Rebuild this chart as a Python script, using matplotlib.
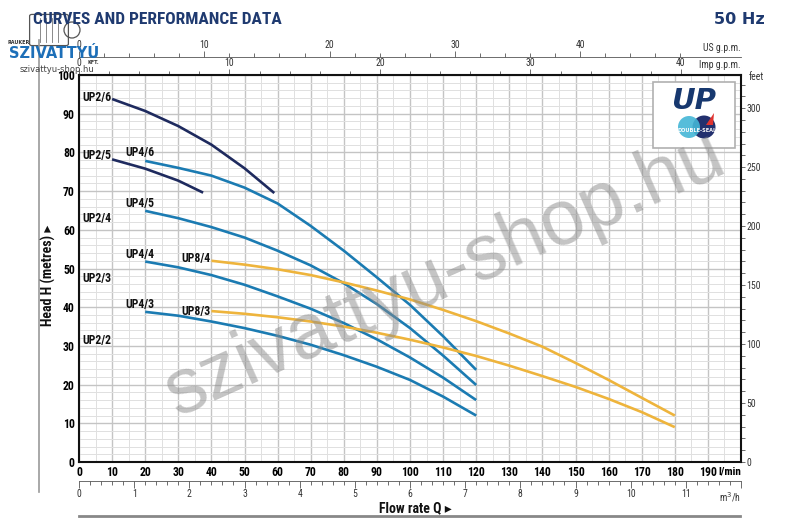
import matplotlib
matplotlib.use('Agg')
import matplotlib.pyplot as plt
from matplotlib import font_manager as fm
from matplotlib.ticker import MultipleLocator, FixedLocator
import matplotlib.patches as mpatches
import numpy as np

# ---------------- data ----------------
flow_up26 = [10, 20, 30, 40, 50, 59]
head_up26 = [93.8, 90.7, 86.8, 82.0, 75.9, 69.5]
flow_up25 = [10, 20, 30, 37.5]
head_up25 = [78.2, 75.8, 72.7, 69.6]

flow_up4 = [20, 30, 40, 50, 60, 70, 80, 90, 100, 110, 120]
head_up46 = [77.8, 76.0, 74.0, 70.9, 66.8, 61.0, 54.6, 47.7, 40.6, 32.5, 23.8]
head_up45 = [64.9, 63.0, 60.7, 58.0, 54.6, 50.8, 46.2, 40.8, 34.6, 27.5, 19.9]
head_up44 = [51.8, 50.3, 48.3, 45.8, 42.8, 39.6, 35.9, 31.7, 27.0, 21.8, 16.0]
head_up43 = [38.8, 37.8, 36.3, 34.6, 32.6, 30.3, 27.6, 24.6, 21.2, 16.9, 12.0]

flow_up8 = [40, 50, 60, 70, 80, 90, 100, 110, 120, 130, 140, 150, 160, 170, 180]
head_up84 = [52.0, 51.0, 49.8, 48.3, 46.4, 44.3, 42.0, 39.3, 36.4, 33.2, 29.8, 25.6, 21.2, 16.6, 12.0]
head_up83 = [39.0, 38.3, 37.4, 36.3, 35.0, 33.4, 31.6, 29.6, 27.4, 24.9, 22.2, 19.4, 16.3, 12.9, 9.0]

curve_labels = ["UP2/6", "UP2/5", "UP4/6", "UP2/4", "UP4/5", "UP4/4",
                "UP8/4", "UP2/3", "UP4/3", "UP8/3", "UP2/2"]
label_x = [0.9, 0.9, 13.9, 0.9, 13.9, 13.9, 30.8, 0.9, 13.9, 30.8, 0.9]
label_y = [94.2, 79.1, 80.1, 63.0, 66.9, 53.7, 52.5, 47.3, 40.6, 39.0, 31.5]

lpm_ticks = list(range(0, 201, 10))
head_ticks = list(range(0, 101, 10))
m3h_ticks = list(range(0, 13))
imp_ticks = [0, 10, 20, 30, 40]
us_ticks = [0, 10, 20, 30, 40]
feet_ticks = [0, 50, 100, 150, 200, 250, 300]

NAVY = '#1e2a5e'
BLUE = '#1b7bb2'
YELLOW = '#eeb43c'
TITLE = '#1f3a70'

# ---------------- fonts ----------------
names = {f.name for f in fm.fontManager.ttflist}
CF = 'DejaVu Sans'
CSTRETCH = 'normal'
for cand in ['Roboto Condensed', 'Liberation Sans Narrow', 'Open Sans Condensed']:
    if cand in names:
        CF = cand
        break
else:
    for f in fm.fontManager.ttflist:
        if f.name == 'DejaVu Sans' and 'condensed' in str(f.stretch):
            CSTRETCH = 'condensed'
            break

def cfont(**kw):
    d = dict(fontfamily=[CF, 'DejaVu Sans'], fontstretch=CSTRETCH)
    d.update(kw)
    return d

W, H = 800, 526
fig = plt.figure(figsize=(W / 100, H / 100), dpi=100)

def fx(x):
    return x / W

def fy(y):
    return 1 - y / H

ax = fig.add_axes([79 / W, 1 - 462 / H, 662 / W, 387 / H])
ax.set_xlim(0, 200)
ax.set_ylim(0, 100)

# grid
ax.xaxis.set_minor_locator(MultipleLocator(5))
ax.yaxis.set_minor_locator(MultipleLocator(2))
ax.grid(which='major', color='#c4c4c4', lw=1.0)
ax.grid(which='minor', color='#e0e0e0', lw=0.7)
ax.set_axisbelow(True)
for s in ax.spines.values():
    s.set_linewidth(1.5)
    s.set_color('#111111')

ax.set_xticks(lpm_ticks, [str(v) for v in lpm_ticks[:-1]] + [''],
              **cfont(fontweight='bold', fontsize=8.5))
ax.set_yticks(head_ticks, [str(v) for v in head_ticks],
              **cfont(fontweight='bold', fontsize=8.5))
ax.tick_params(which='both', length=0)
ax.tick_params(axis='x', pad=3)
ax.tick_params(axis='y', pad=3)

# curves
lw = 1.9
ax.plot(flow_up26, head_up26, color=NAVY, lw=lw, solid_capstyle='butt')
ax.plot(flow_up25, head_up25, color=NAVY, lw=lw, solid_capstyle='butt')
for hv in (head_up46, head_up45, head_up44, head_up43):
    ax.plot(flow_up4, hv, color=BLUE, lw=lw, solid_capstyle='butt')
for hv in (head_up84, head_up83):
    ax.plot(flow_up8, hv, color=YELLOW, lw=lw, solid_capstyle='butt')

for t, x, y in zip(curve_labels, label_x, label_y):
    ax.text(x, y, t, ha='left', va='center', color='#111111',
            **cfont(fontweight='bold', fontsize=8.5))

# ---- secondary axes ----
m3 = ax.secondary_xaxis(-19 / 387, functions=(lambda q: q * 0.06, lambda m: m / 0.06))
m3.set_xticks(m3h_ticks, [str(v) for v in m3h_ticks[:-1]] + [''],
              **cfont(fontsize=7, color='#333333'))
m3.xaxis.set_minor_locator(FixedLocator(np.arange(0, 12.01, 0.2)))
m3.tick_params(which='major', length=5, width=0.6, color='#555555', pad=1)
m3.tick_params(which='minor', length=3, width=0.6, color='#555555')
m3.spines['bottom'].set_color('#555555')
m3.spines['bottom'].set_linewidth(0.6)

imp = ax.secondary_xaxis('top', functions=(lambda q: q / 4.546, lambda i: i * 4.546))
imp.set_xticks(imp_ticks, [str(v) for v in imp_ticks], **cfont(fontsize=7, color='#333333'))
imp.xaxis.set_minor_locator(FixedLocator(np.arange(0, 40.01, 2)))
imp.tick_params(which='major', length=4, width=0.6, color='#555555', pad=1)
imp.tick_params(which='minor', length=3, width=0.6, color='#555555')
imp.spines['top'].set_visible(False)

us = ax.secondary_xaxis(1 + 18 / 387, functions=(lambda q: q / 3.785, lambda u: u * 3.785))
us.set_xticks(us_ticks, [str(v) for v in us_ticks], **cfont(fontsize=7, color='#333333'))
us.xaxis.set_minor_locator(FixedLocator(np.arange(0, 48.01, 2)))
us.tick_params(which='major', length=4, width=0.6, color='#555555', pad=1)
us.tick_params(which='minor', length=3, width=0.6, color='#555555')
us.spines['top'].set_color('#555555')
us.spines['top'].set_linewidth(0.6)

ft = ax.secondary_yaxis('right', functions=(lambda m: m / 0.3048, lambda f: f * 0.3048))
ft.set_yticks(feet_ticks, [str(v) for v in feet_ticks], **cfont(fontsize=7, color='#333333'))
ft.yaxis.set_minor_locator(FixedLocator(np.arange(0, 321, 10)))
ft.tick_params(which='both', length=3, width=0.6, color='#555555', pad=1)
ft.spines['right'].set_visible(False)

# unit labels
ax.text(1.0, -0.012, 'l/min', transform=ax.transAxes, ha='right', va='top',
        **cfont(fontweight='bold', fontsize=8))
ax.text(1.0, -0.072, 'm$^3$/h', transform=ax.transAxes, ha='right', va='top',
        **cfont(fontsize=7, color='#333333'))
ax.text(1.0, 1.012, 'Imp g.p.m.', transform=ax.transAxes, ha='right', va='bottom',
        **cfont(fontsize=7, color='#333333'))
ax.text(1.0, 1.058, 'US g.p.m.', transform=ax.transAxes, ha='right', va='bottom',
        **cfont(fontsize=7, color='#333333'))
ax.text(1.012, 0.995, 'feet', transform=ax.transAxes, ha='left', va='center',
        **cfont(fontsize=7, color='#333333'))

# axis titles
fig.text(fx(48), fy(275), 'Head H (metres) \u25B8', rotation=90, ha='center', va='center',
         **cfont(fontweight='bold', fontsize=10, color='#111111'))
fig.text(fx(415), fy(508), 'Flow rate Q \u25B8', ha='center', va='center',
         **cfont(fontweight='bold', fontsize=10, color='#111111'))

# decorative frame lines
fig.add_artist(plt.Line2D([fx(79), fx(740)], [fy(516), fy(516)], color='#888888', lw=2))
fig.add_artist(plt.Line2D([fx(39), fx(39)], [fy(40), fy(492)], color='#9a9a9a', lw=1.2))

# pump sketch of the shop logo (motor body + pump head)
fig.add_artist(mpatches.FancyBboxPatch((fx(32), fy(44)), fx(34), fy(16) - fy(44),
                                       boxstyle='round,pad=0.003', facecolor='none',
                                       edgecolor='#555555', lw=0.9))
for xx in (40, 46, 52, 58):
    fig.add_artist(plt.Line2D([fx(xx), fx(xx)], [fy(18), fy(42)], color='#777777', lw=0.6))
fig.add_artist(mpatches.Ellipse((fx(72), fy(30)), 16 / W, 16 / H, facecolor='none',
                                edgecolor='#555555', lw=0.9))

# header
fig.text(fx(33), fy(20), 'CURVES AND PERFORMANCE DATA', ha='left', va='center',
         **cfont(fontweight='bold', fontsize=12.5, color=TITLE))
fig.text(fx(765), fy(20), '50 Hz', ha='right', va='center',
         fontweight='bold', fontsize=11.5, color=TITLE)

# shop logo
fig.text(fx(8), fy(43), 'RAUKER', ha='left', va='center', fontsize=3.5,
         fontweight='bold', color='#333333')
fig.text(fx(54), fy(53), 'SZIVATTYÚ', ha='center', va='center', fontsize=10.5,
         fontweight='bold', color='#1d6fb8')
fig.text(fx(88), fy(62), 'KFT.', ha='left', va='center', fontsize=3.5,
         fontweight='bold', color='#333333')
fig.text(fx(57), fy(70), 'szivattyu-shop.hu', ha='center', va='center', fontsize=6,
         color='#444444')

# UP logo box
ax.add_patch(mpatches.Rectangle((0.867, 0.811), 0.124, 0.171, transform=ax.transAxes,
                                facecolor='white', edgecolor='#b0b0b0', lw=1.2, zorder=5))
ax.text((694 - 79) / 662, (462 - 101) / 387, 'UP', transform=ax.transAxes, ha='center',
        va='center', fontsize=21, fontweight='heavy', fontstyle='italic', color='#17386f',
        zorder=6)
ax.add_patch(mpatches.Ellipse(((704 - 79) / 662, (462 - 127) / 387), 23 / 662, 23 / 387,
                              transform=ax.transAxes, facecolor='#23306e', edgecolor='none',
                              zorder=6))
ax.add_patch(mpatches.Ellipse(((689 - 79) / 662, (462 - 127) / 387), 22 / 662, 22 / 387,
                              transform=ax.transAxes, facecolor='#44b6d6', edgecolor='none',
                              alpha=0.9, zorder=6))
ax.add_patch(mpatches.Polygon([((706 - 79) / 662, (462 - 125) / 387),
                               ((714 - 79) / 662, (462 - 113) / 387),
                               ((713 - 79) / 662, (462 - 125) / 387)],
                              closed=True, transform=ax.transAxes, facecolor='#e0332f',
                              edgecolor='none', zorder=7))
ax.text((697 - 79) / 662, (462 - 130) / 387, 'DOUBLE-SEAL', transform=ax.transAxes,
        ha='center', va='center', fontsize=3.6, fontweight='bold', color='white', zorder=8)

# watermark
fig.text(fx(445), fy(275), 'szivattyu-shop.hu', rotation=24, ha='center', va='center',
         fontsize=56, color='#8a8a8a', alpha=0.5, family='Liberation Sans', zorder=20)

fig.savefig('out.png', dpi=100)
